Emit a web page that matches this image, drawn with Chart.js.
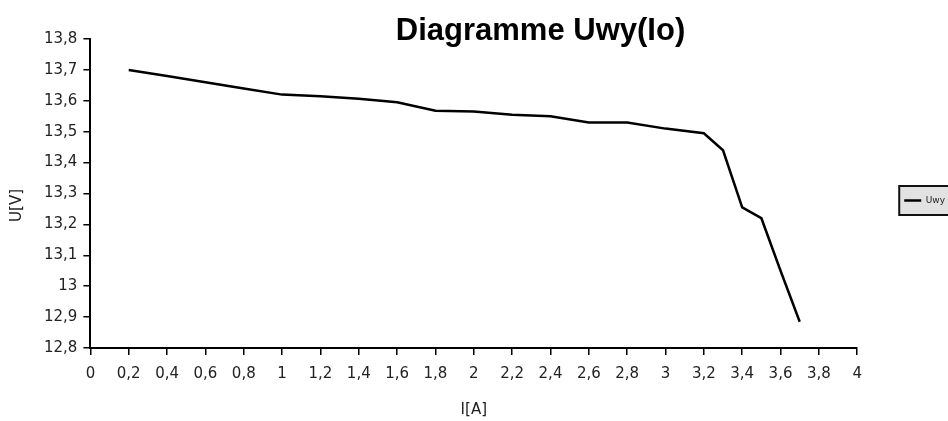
<!DOCTYPE html>
<html>
<head>
  <title>Diagramme Uwy(Io)</title>
  <script src="https://cdn.jsdelivr.net/npm/chart.js"></script>
  <style>
    body { margin: 0; background: #fff; overflow: hidden; }
    #wrap { width: 948px; height: 421px; overflow: hidden; }
  </style>
</head>
<body>
  <div id="wrap">
    <canvas id="chart" width="955" height="421"></canvas>
  </div>

  <script>
    // Measured points: load current I [A] and output voltage U [V]
    const currents = [0.2, 0.4, 0.6, 0.8, 1.0, 1.2, 1.4, 1.6, 1.8, 2.0, 2.2, 2.4, 2.6, 2.8, 3.0, 3.2, 3.3, 3.4, 3.5, 3.6, 3.7];
    const voltages = [13.70, 13.68, 13.66, 13.64, 13.62, 13.615, 13.607, 13.595, 13.568, 13.565, 13.555, 13.55, 13.53, 13.53, 13.51, 13.495, 13.44, 13.255, 13.22, 13.05, 12.885];

    const seriesName = 'Uwy';
    const chartTitle = 'Diagramme Uwy(Io)';
    const xTitle = 'I[A]';
    const yTitle = 'U[V]     '; // trailing spaces push the rotated label down a bit, as in Excel

    // Excel-style decimal comma: 13,8 / 0,2 / 1
    const commaLabel = v => String(Math.round(v * 10) / 10).replace('.', ',');

    const TITLE_SHIFT = 63;  // Excel centres the title over the whole (cropped) chart object
    const LEGEND_SHIFT = 7;

    // grey framed legend box like the Excel one
    const legendFrame = {
      id: 'legendFrame',
      afterLayout(chart) {
        chart.titleBlock.left += TITLE_SHIFT;
        chart.titleBlock.right += TITLE_SHIFT;
        chart.legend.top += LEGEND_SHIFT;
        chart.legend.bottom += LEGEND_SHIFT;
      },
      beforeDraw(chart) {
        const hb = chart.legend.legendHitBoxes[0];
        if (!hb) return;
        const ctx = chart.ctx;
        ctx.save();
        ctx.fillStyle = '#e2e2e2';
        ctx.strokeStyle = '#111';
        ctx.lineWidth = 2;
        ctx.fillRect(hb.left - 5, hb.top - 10, 90, hb.height + 20);
        ctx.strokeRect(hb.left - 5, hb.top - 10, 90, hb.height + 20);
        ctx.restore();
      }
    };

    const axisFont = { family: 'DejaVu Sans', size: 15 };

    new Chart(document.getElementById('chart').getContext('2d'), {
      type: 'line',
      data: {
        datasets: [
          {
            label: seriesName,
            data: currents.map((x, i) => ({ x: x, y: voltages[i] })),
            borderColor: '#000',
            backgroundColor: '#000',
            borderWidth: 2.5,
            pointRadius: 0,
            tension: 0,
            fill: false,
          },
        ],
      },
      options: {
        responsive: false,
        animation: false,
        devicePixelRatio: 1,
        layout: { padding: 0 },
        plugins: {
          title: {
            display: true,
            text: chartTitle,
            color: '#000',
            font: { family: 'Liberation Sans', size: 31, weight: 'bold', lineHeight: 1.2 },
            padding: { top: 13, bottom: -11.2 },
          },
          legend: {
            display: true,
            position: 'right',
            fullSize: false,
            labels: {
              usePointStyle: true,
              pointStyle: 'line',
              pointStyleWidth: 17,
              padding: 47,
              color: '#222',
              font: { family: 'DejaVu Sans', size: 9 },
            },
          },
          tooltip: { enabled: false },
        },
        scales: {
          x: {
            type: 'linear',
            min: 0,
            max: 4,
            border: { display: true, color: '#000', width: 2 },
            grid: { drawOnChartArea: false, drawTicks: true, tickLength: 7, color: '#000', lineWidth: 1.5 },
            ticks: {
              stepSize: 0.2,
              autoSkip: false,
              maxRotation: 0,
              padding: 10,
              color: '#222',
              font: axisFont,
              callback: commaLabel,
            },
            title: {
              display: true,
              text: xTitle,
              color: '#222',
              font: axisFont,
              padding: { top: 8, bottom: 2 },
            },
          },
          y: {
            min: 12.8,
            max: 13.8,
            border: { display: true, color: '#000', width: 2 },
            grid: { drawOnChartArea: false, drawTicks: true, tickLength: 7, color: '#000', lineWidth: 1.5 },
            ticks: {
              stepSize: 0.1,
              padding: 6,
              color: '#222',
              font: axisFont,
              callback: commaLabel,
            },
            title: {
              display: true,
              text: yTitle,
              color: '#222',
              font: axisFont,
              padding: { top: 8, bottom: 12 },
            },
          },
        },
      },
      plugins: [legendFrame],
    });
  </script>
</body>
</html>
